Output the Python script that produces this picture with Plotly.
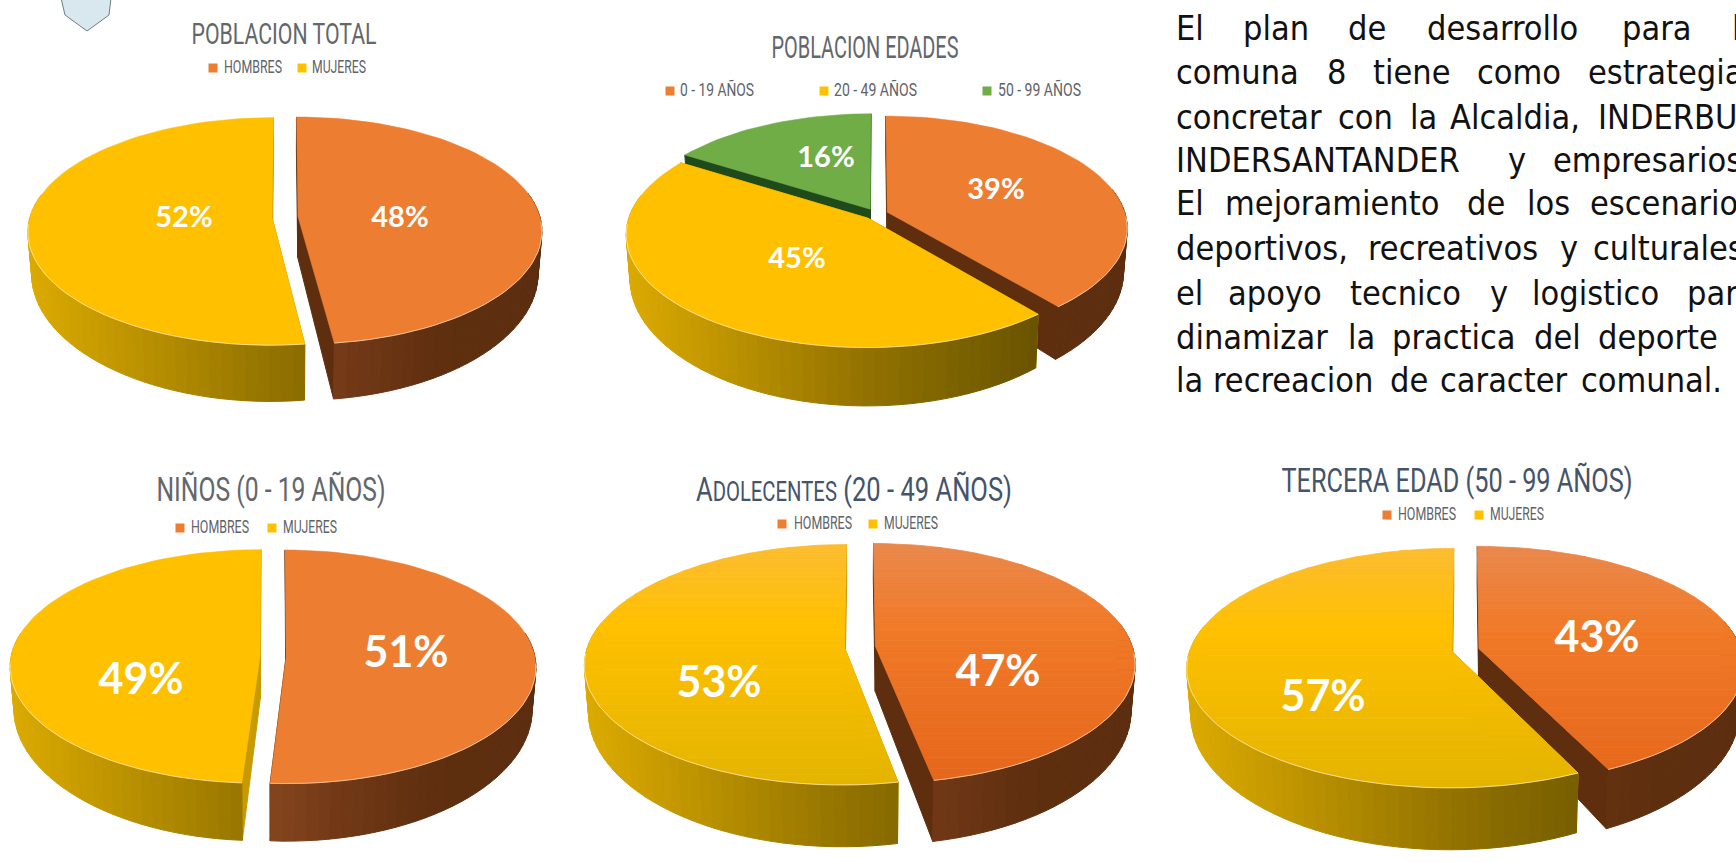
import json
import math
import plotly.graph_objects as go

# ---------- data ----------
total_labels = ["HOMBRES", "MUJERES"]
total_values = [48, 52]
edades_labels = ["0 - 19 AÑOS", "20 - 49 AÑOS", "50 - 99 AÑOS"]
edades_values = [39, 45, 16]
ninos_values = [51, 49]
adolescentes_values = [47, 53]
tercera_values = [43, 57]

body_lines = [
    ["El", "plan", "de", "desarrollo", "para", "l"],
    ["comuna", "8", "tiene", "como", "estrategia"],
    ["concretar", "con", "la", "Alcaldia,", "INDERBU"],
    ["INDERSANTANDER", "y", "empresarios"],
    ["El", "mejoramiento", "de", "los", "escenario"],
    ["deportivos,", "recreativos", "y", "culturales"],
    ["el", "apoyo", "tecnico", "y", "logistico", "par"],
    ["dinamizar", "la", "practica", "del", "deporte"],
    ["la", "recreacion", "de", "caracter", "comunal."],
]

# ---------- layout / style ----------
W, H = 1736, 862
ORANGE, YELLOW, GREEN = "#ED7D31", "#FFC000", "#70AD47"
body_x = [
    [1176, 1243, 1348, 1427, 1622, 1732],
    [1176, 1327, 1373, 1477, 1588],
    [1176, 1338, 1410, 1450, 1598],
    [1176, 1508, 1553],
    [1176, 1225, 1467, 1527, 1590],
    [1176, 1368, 1560, 1593],
    [1176, 1228, 1350, 1490, 1532, 1687],
    [1176, 1348, 1392, 1534, 1598],
    [1176, 1213, 1390, 1440, 1581],
]
body_y = [31, 75, 120, 163, 206, 251, 296, 340, 383]

# target ink widths of the condensed display lettering
text_widths = {
    "POBLACION TOTAL": 185, "POBLACION EDADES": 187, "NIÑOS (0 - 19 AÑOS)": 229,
    "ADOLECENTES (20 - 49 AÑOS)": 316, "TERCERA EDAD (50 - 99 AÑOS)": 351,
    "HOMBRES": 58, "MUJERES": 54, "0 - 19 AÑOS": 74, "20 - 49 AÑOS": 83, "50 - 99 AÑOS": 83,
}

PIES = [
    dict(title="POBLACION TOTAL", values=total_values, colors=["o", "y"], labels=total_labels,
         cx=285, cy=217, b=242, a=112, k=.123, h0=41, e=13, grad=False, lab_size=29,
         lab_xy=[(400, 220), (184, 220)], t_xy=(284, 36), t_size=30, tc="#63676b",
         leg_y=68, leg_x=[(213, 224), (302, 312)]),
    dict(title="POBLACION EDADES", values=edades_values, colors=["o", "y", "g"], labels=edades_labels,
         cx=876, cy=214, b=238, a=110, k=.14, h0=42, e=12, grad=False, lab_size=29,
         lab_xy=[(996, 192), (797, 261), (826, 160)], t_xy=(865, 50), t_size=31, tc="#63676b",
         leg_y=91, leg_x=[(670, 680), (824, 834), (987, 998)]),
    dict(title="NIÑOS (0 - 19 AÑOS)", values=ninos_values, colors=["o", "y"], labels=total_labels,
         cx=273, cy=657, b=249, a=116, k=.082, h0=42, e=13, grad=False, lab_size=43,
         lab_xy=[(406, 656), (141, 683)], t_xy=(271, 492), t_size=34, tc="#63676b",
         leg_y=528, leg_x=[(180, 191), (272, 283)]),
    dict(title="A<span style='font-size:27px'>DOLECENTES</span> (20 - 49 AÑOS)", values=adolescentes_values,
         colors=["o", "y"], labels=total_labels,
         cx=860, cy=647, b=257, a=117.6, k=.142, h0=45, e=15.5, grad=True, lab_size=43,
         lab_xy=[(998, 675), (719, 686)], t_xy=(854, 492), t_size=34, tc="#44546A",
         leg_y=524, leg_x=[(782, 794), (873, 884)]),
    dict(title="TERCERA EDAD (50 - 99 AÑOS)", values=tercera_values, colors=["o", "y"], labels=total_labels,
         cx=1465.5, cy=650, b=262, a=117, k=.14, h0=45, e=13.8, grad=True, lab_size=43,
         lab_xy=[(1597, 641), (1323, 700)], t_xy=(1457, 483), t_size=34, tc="#44546A",
         leg_y=515, leg_x=[(1387, 1398), (1479, 1490)]),
]

TOP = {"o": ORANGE, "y": YELLOW, "g": GREEN}
TOP_GRAD = {
    "o": [(0, "#E98A50"), (.35, "#F07A28"), (1, "#E5651A")],
    "y": [(0, "#FBBC38"), (.35, "#FFC000"), (1, "#E2B400")],
    "g": [(0, GREEN), (1, GREEN)],
}
RIM = {
    "y": [(0, "#DBAA00"), (.5, "#8F7000"), (1, "#544400")],
    "o": [(0, "#A0561F"), (.45, "#8A4A20"), (.62, "#733917"), (.8, "#5F2F0F"), (1, "#5C2E0F")],
    "g": [(0, "#2C5A22"), (1, "#1E4018")],
}
CUT = {"y": "#C79A00", "o": "#5E2E0E", "g": "#1F4A1C"}


def hex_rgb(c):
    return tuple(int(c[i:i + 2], 16) for i in (1, 3, 5))


def ramp(stops, t):
    t = max(0, min(1, t))
    for (t0, c0), (t1, c1) in zip(stops, stops[1:]):
        if t <= t1:
            f = (t - t0) / (t1 - t0)
            a, b = hex_rgb(c0), hex_rgb(c1)
            return "rgb(%d,%d,%d)" % tuple(round(a[i] + (b[i] - a[i]) * f) for i in range(3))
    return stops[-1][1]


fig = go.Figure()


def poly(pts, color, line=1.0):
    xs = [p[0] for p in pts] + [pts[0][0]]
    ys = [p[1] for p in pts] + [pts[0][1]]
    fig.add_trace(go.Scatter(x=xs, y=ys, mode="lines", fill="toself", fillcolor=color,
                             line=dict(color=color, width=line), hoverinfo="skip", showlegend=False))


def clip_band(pts, y0, y1):
    def clip(poly_pts, inside, cross):
        out = []
        for i, p in enumerate(poly_pts):
            q = poly_pts[(i + 1) % len(poly_pts)]
            if inside(p):
                out.append(p)
                if not inside(q):
                    out.append(cross(p, q))
            elif inside(q):
                out.append(cross(p, q))
        return out

    def at(yv):
        return lambda p, q: (p[0] + (q[0] - p[0]) * (yv - p[1]) / (q[1] - p[1]), yv)

    r = clip(pts, lambda p: p[1] >= y0, at(y0))
    if r:
        r = clip(r, lambda p: p[1] <= y1, at(y1))
    return r


def draw_pie(P):
    b, a, k = P["b"], P["a"], P["k"]
    cx, cy = P["cx"], P["cy"]
    k2, s = .27, .985
    total = sum(P["values"])

    def top_pt(ux, uy):
        w = 1 - k * uy
        return cx + b * ux / w, cy + a * uy / w

    def bot_pt(ux, uy):
        X, Y = top_pt(ux, uy)
        return cx + (X - cx) * s, Y + P["h0"] / (1 - k2 * uy)

    slices, acc = [], 0.0
    for v, c in zip(P["values"], P["colors"]):
        start, end = acc, acc + 360.0 * v / total
        acc = end
        bis = math.radians((start + end) / 2)
        slices.append((-math.cos(bis), start, end, c, bis))
    xmin, xmax = cx - b - P["e"], cx + b + P["e"]

    for _, start, end, c, bis in sorted(slices):
        ox, oy = P["e"] / b * math.sin(bis), -P["e"] / b * math.cos(bis)
        n = max(8, int((end - start) / 2.5))
        angs = [math.radians(start + (end - start) * i / n) for i in range(n + 1)]
        ring = [(ox + math.sin(t), oy - math.cos(t)) for t in angs]
        apex = (ox, oy)
        for e_pt in (ring[0], ring[-1]):
            poly([top_pt(*apex), top_pt(*e_pt), bot_pt(*e_pt), bot_pt(*apex)], CUT[c])
        for p, q in zip(ring, ring[1:]):
            if max(p[1], q[1]) < oy - .2:
                continue
            X = (top_pt(*p)[0] + top_pt(*q)[0]) / 2
            col = ramp(RIM[c], (X - xmin) / (xmax - xmin))
            poly([top_pt(*p), top_pt(*q), bot_pt(*q), bot_pt(*p)], col)
        outline = [top_pt(*apex)] + [top_pt(*p) for p in ring]
        if P["grad"]:
            ytop, ybot = cy - a / (1 + k), cy + a / (1 - k)
            nb = 44
            for i in range(nb):
                y0 = ytop - 8 + (ybot - ytop + 16) * i / nb
                y1 = ytop - 8 + (ybot - ytop + 16) * (i + 1) / nb
                band = clip_band(outline, y0, y1)
                if len(band) >= 3:
                    poly(band, ramp(TOP_GRAD[c], (i + .5) / nb), line=.8)
        else:
            poly(outline, TOP[c], line=.5)
        fr = [top_pt(*p) for p in ring if p[1] > oy + .02]
        if len(fr) > 1:
            fig.add_trace(go.Scatter(x=[p[0] for p in fr], y=[p[1] for p in fr], mode="lines",
                                     line=dict(color="rgba(255,240,215,.65)", width=1),
                                     hoverinfo="skip", showlegend=False))

    fig.add_trace(go.Scatter(
        x=[p[0] for p in P["lab_xy"]], y=[p[1] for p in P["lab_xy"]], mode="text",
        text=[f"{v}%" for v in P["values"]], textposition="middle center",
        textfont=dict(family="Lato", size=P["lab_size"], color="#FFFFFF", weight="bold"),
        hoverinfo="skip", showlegend=False))
    fig.add_trace(go.Scatter(
        x=[P["t_xy"][0]], y=[P["t_xy"][1]], mode="text", text=[P["title"]],
        textposition="middle center",
        textfont=dict(family="Roboto", size=P["t_size"], color=P["tc"], weight=400),
        hoverinfo="skip", showlegend=False))
    fig.add_trace(go.Scatter(
        x=[p[0] for p in P["leg_x"]], y=[P["leg_y"]] * len(P["leg_x"]), mode="markers",
        marker=dict(symbol="square", size=9, color=[TOP[c] for c in P["colors"]]),
        hoverinfo="skip", showlegend=False))
    fig.add_trace(go.Scatter(
        x=[p[1] for p in P["leg_x"]], y=[P["leg_y"]] * len(P["leg_x"]), mode="text",
        text=P["labels"], textposition="middle right",
        textfont=dict(family="Roboto", size=18, color="#5f6368", weight=400),
        hoverinfo="skip", showlegend=False))


for P in PIES:
    draw_pie(P)

# shield fragment at the top-left corner
poly([(61, -2), (65, 15), (87, 31), (109, 15), (111, -2)], "#D8E8EE", line=1)
fig.data[-1].line.color = "#6F7F80"

wx, wy, wt = [], [], []
for words, xs, y in zip(body_lines, body_x, body_y):
    for w, x in zip(words, xs):
        wx.append(x), wy.append(y), wt.append(w)
fig.add_trace(go.Scatter(
    x=wx, y=wy, mode="text", text=wt, textposition="middle right",
    textfont=dict(family="DejaVu Sans Condensed, DejaVu Sans", size=34, color="#111111"),
    hoverinfo="skip", showlegend=False, cliponaxis=False))

fig.update_layout(
    width=W, height=H, margin=dict(l=0, r=0, t=0, b=0),
    paper_bgcolor="white", plot_bgcolor="white", showlegend=False,
    xaxis=dict(range=[0, W], visible=False, fixedrange=True),
    yaxis=dict(range=[H, 0], visible=False, fixedrange=True),
)

post = """
document.body.style.margin = '0';
document.documentElement.style.overflow = 'hidden';
var TW = %s;
document.getElementById('{plot_id}').querySelectorAll('.textpoint text').forEach(function (t) {
  var w = TW[t.textContent];
  if (w) { t.setAttribute('textLength', w); t.setAttribute('lengthAdjust', 'spacingAndGlyphs'); }
});
""" % json.dumps(text_widths, ensure_ascii=False)
fig.write_html("out.html", config={"displayModeBar": False}, post_script=post)
